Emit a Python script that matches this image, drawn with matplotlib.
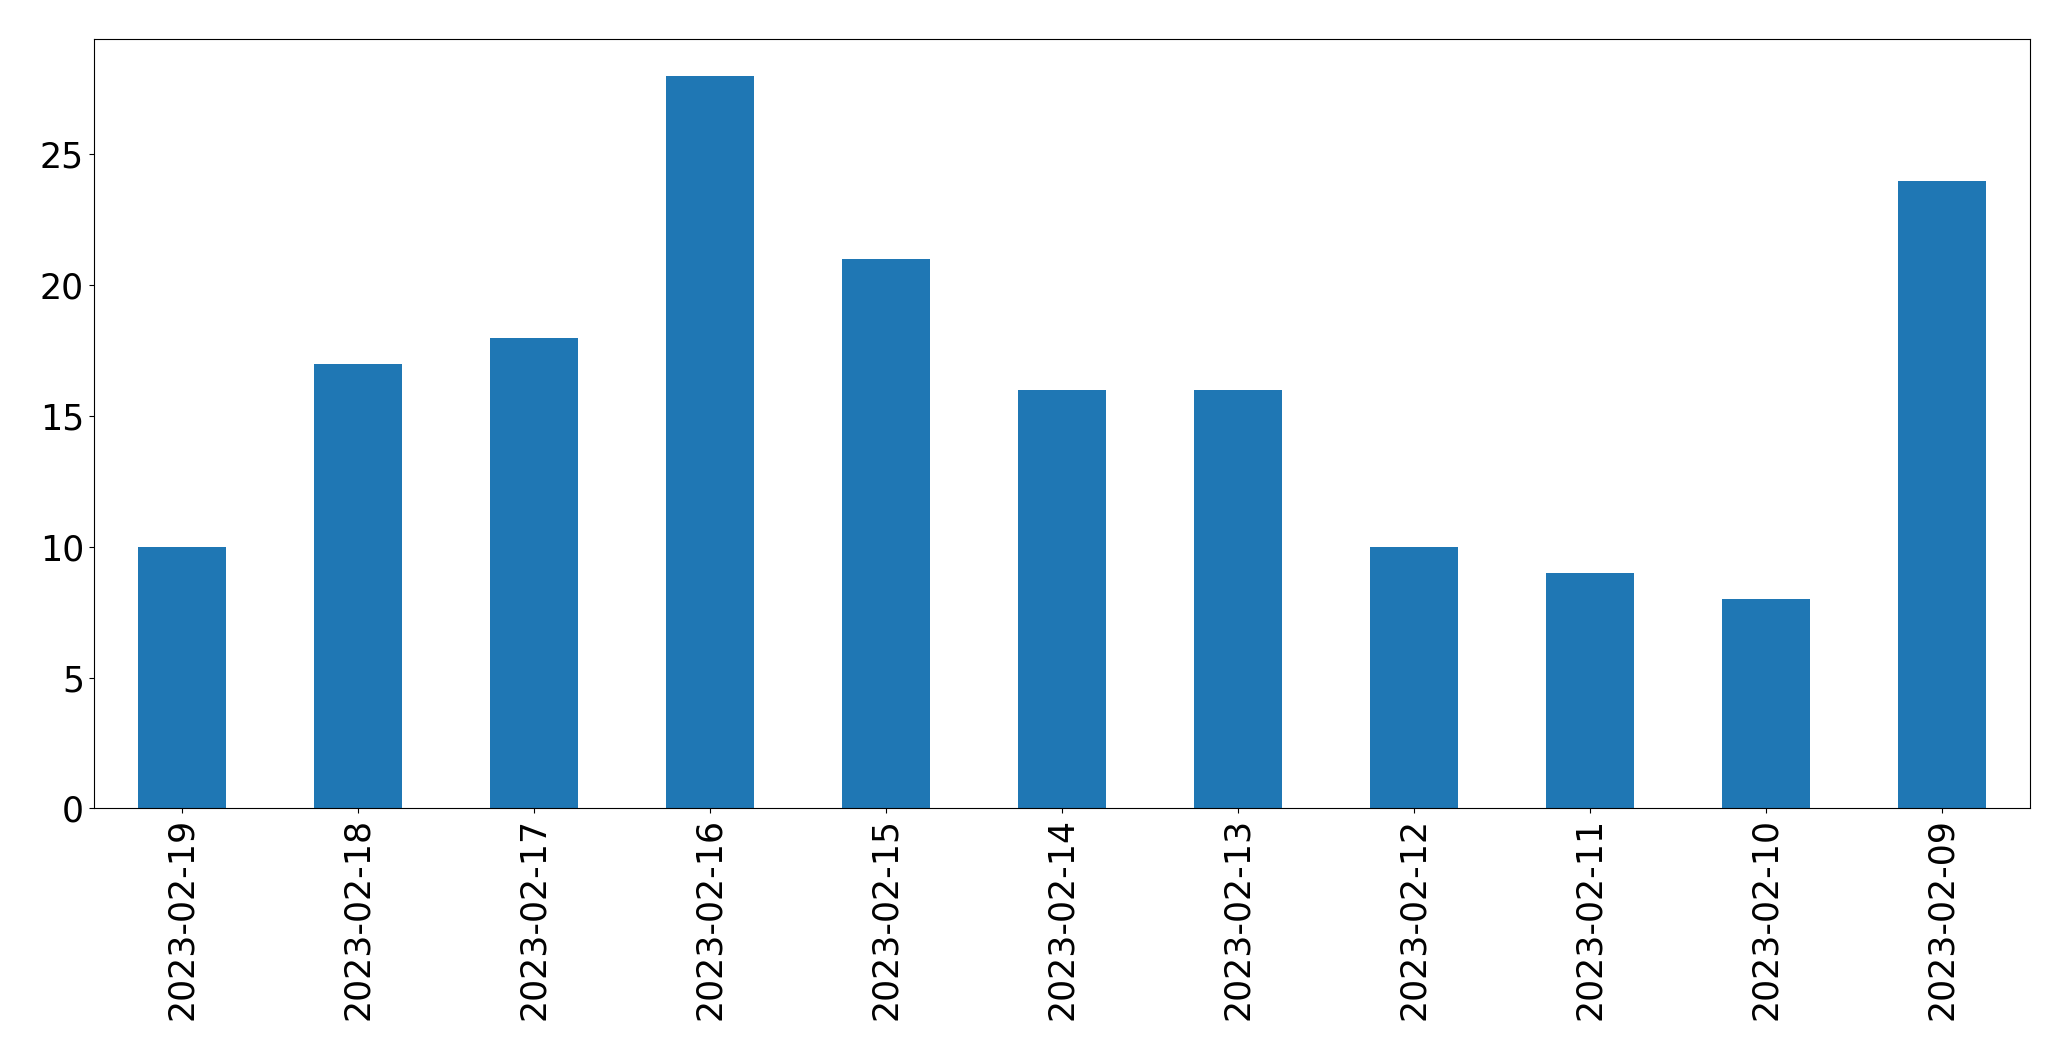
import numpy as np
import matplotlib
matplotlib.use("Agg")
import matplotlib.pyplot as plt

dates = ["2023-02-19", "2023-02-18", "2023-02-17", "2023-02-16", "2023-02-15",
         "2023-02-14", "2023-02-13", "2023-02-12", "2023-02-11", "2023-02-10",
         "2023-02-09"]
counts = [10, 17, 18, 28, 21, 16, 16, 10, 9, 8, 24]

fig = plt.figure(figsize=(20.71, 10.61), dpi=100)
ax = fig.add_axes([0.0453, 0.238, 0.9347, 0.725])

x = np.arange(len(dates))
ax.bar(x, counts, width=0.5, color="#1f77b4")
ax.set_xlim(-0.5, len(dates) - 0.5)
ax.set_ylim(0, max(counts) * 1.05)
ax.set_xticks(x)
ax.set_xticklabels(dates, rotation=90)
ax.tick_params(labelsize=25)

fig.savefig("out.png", dpi=100)
